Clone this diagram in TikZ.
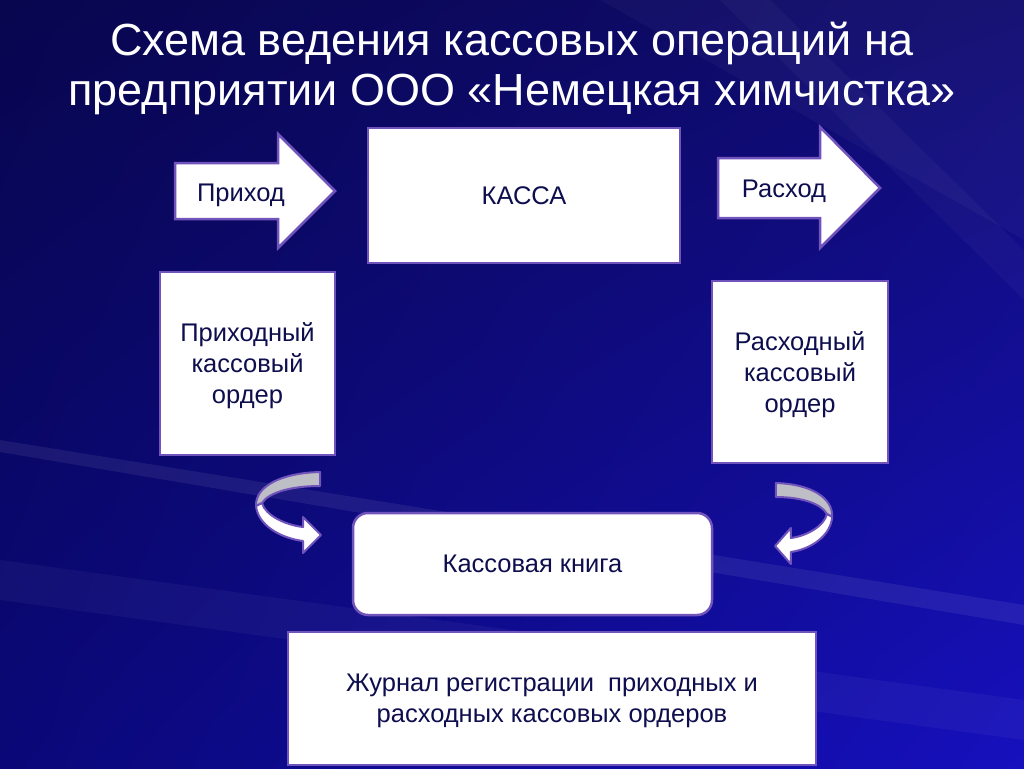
\documentclass[tikz,border=0pt]{standalone}
\usepackage{fontspec}
\setmainfont{Liberation Sans}
\usetikzlibrary{positioning,shadings}

\definecolor{bgdark}{RGB}{8,6,78}
\definecolor{bgtop}{RGB}{16,12,112}
\definecolor{bgmid}{RGB}{10,8,120}
\definecolor{bglight}{RGB}{22,16,190}
\definecolor{frame}{RGB}{112,84,188}
\definecolor{ink}{RGB}{14,14,78}
\definecolor{backband}{RGB}{190,190,198}

\tikzset{
  box/.style={draw=frame,line width=2.5pt,fill=white,text=ink,align=center,
    font=\fontsize{25.5}{31}\selectfont,inner sep=0pt},
  flow/.style={draw=frame,line width=2.5pt,fill=white,line join=miter},
  label/.style={text=ink,font=\fontsize{25.5}{31}\selectfont},
  turnarrow/.pic={
    \draw[draw=frame,line width=2pt,fill=backband,line join=round]
      (-1,-63) .. controls (-41,-62) and (-66,-48) .. (-65,-29)
      -- (-59,-32) .. controls (-53,-42) and (-31,-49) .. (-1,-49) -- cycle;
    \draw[draw=frame,line width=2pt,fill=white,line join=round]
      (-65,-29) .. controls (-63,-10) and (-41,3) .. (-18,6)
      -- (-18,18) -- (0,0) -- (-18,-18) -- (-18,-8)
      .. controls (-36,-10) and (-56,-20) .. (-59,-32) -- cycle;
  }
}

\begin{document}
\begin{tikzpicture}[x=1pt,y=-1pt]
  \useasboundingbox (0,0) rectangle (1024,768);
  \shade[upper left=bgdark,upper right=bgtop,lower left=bgmid,lower right=bglight]
    (0,0) rectangle (1024,768);
  % faint rays
  \fill[white,opacity=.03] (1024,0) -- (600,0) -- (1024,240) -- cycle;
  \fill[white,opacity=.03] (1024,300) -- (720,0) -- (770,0) -- (1024,250) -- cycle;
  \fill[white,opacity=.07] (1024,605) -- (0,440) -- (0,452) -- (1024,625) -- cycle;
  \fill[white,opacity=.04] (1024,700) -- (0,560) -- (0,600) -- (1024,740) -- cycle;

  \node[text=white,align=center,font=\fontsize{45}{50}\selectfont] (title) at (512,68)
    {Схема ведения кассовых операций на\\предприятии ООО «Немецкая химчистка»};

  % income and expense arrows
  \draw[flow] (175,163) -- (278,163) -- (278,134) -- (335,191) -- (278,248)
    -- (278,219) -- (175,219) -- cycle;
  \node[label,text depth=-1pt] (prihod) at (241,193) {Приход};
  \draw[flow] (718,158) -- (820,158) -- (820,127) -- (880,188) -- (820,248)
    -- (820,218) -- (718,218) -- cycle;
  \node[label,text depth=-1pt] (rashod) at (784,189) {Расход};

  \node[box,minimum width=312pt,minimum height=135pt,text depth=-6pt] (kassa)
    at (524,195.5) {КАССА};
  \node[box,minimum width=175pt,minimum height=183pt,text depth=-3pt] (pko)
    at (247.5,363.5) {Приходный\\кассовый\\ордер};
  \node[box,minimum width=176pt,minimum height=182pt,text depth=-4pt] (rko)
    at (800,372) {Расходный\\кассовый\\ордер};
  \node[box,rounded corners=15pt,minimum width=359pt,minimum height=102pt,
    text depth=-4pt] (kniga) at (532.5,564) {Кассовая книга};
  \node[box,minimum width=528pt,minimum height=133pt,text depth=-8pt] (zhurnal)
    at (552,698.5) {Журнал регистрации \ приходных и\\расходных кассовых ордеров};

  \pic at (321,535) {turnarrow};
  \pic[xscale=-.88] at (775,546) {turnarrow};
\end{tikzpicture}
\end{document}
